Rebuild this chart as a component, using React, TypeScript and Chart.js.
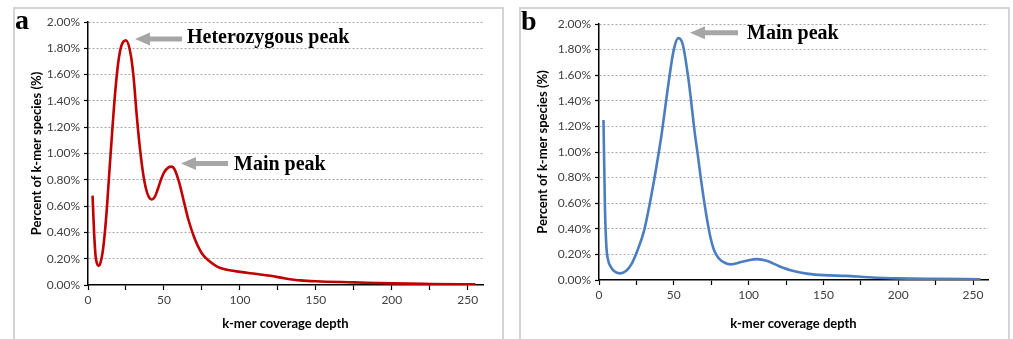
import React, { useEffect, useRef } from "react";
import { Chart, registerables } from "chart.js";

Chart.register(...registerables);

// ---- Panel a (red) ----
const A_DEPTH = [3, 4, 5, 6, 7, 8, 10, 12, 14, 16, 18, 20, 22, 25, 28, 30, 32, 34, 36, 38, 40, 42, 44, 46, 48, 50, 53, 55, 57, 60, 63, 66, 70, 75, 80, 85, 90, 100, 110, 120, 130, 140, 150, 175, 200, 225, 255];
const A_PERCENT = [0.68, 0.4, 0.22, 0.16, 0.145, 0.16, 0.28, 0.52, 0.85, 1.18, 1.48, 1.7, 1.82, 1.86, 1.76, 1.58, 1.3, 1.06, 0.87, 0.74, 0.67, 0.65, 0.67, 0.73, 0.8, 0.855, 0.895, 0.9, 0.88, 0.78, 0.64, 0.5, 0.36, 0.24, 0.18, 0.14, 0.12, 0.1, 0.085, 0.07, 0.05, 0.035, 0.028, 0.02, 0.012, 0.008, 0.005];

// ---- Panel b (blue) ----
const B_DEPTH = [3, 4, 5, 6, 8, 10, 14, 18, 22, 26, 30, 34, 38, 40, 42, 46, 50, 53, 56, 60, 64, 66, 68, 71, 74, 77, 80, 84, 88, 95, 100, 106, 112, 120, 130, 140, 150, 165, 180, 200, 225, 255];
const B_PERCENT = [1.25, 0.55, 0.25, 0.16, 0.1, 0.07, 0.052, 0.07, 0.13, 0.24, 0.38, 0.6, 0.86, 1.0, 1.15, 1.5, 1.8, 1.89, 1.84, 1.55, 1.15, 0.98, 0.8, 0.56, 0.36, 0.23, 0.17, 0.135, 0.122, 0.14, 0.155, 0.163, 0.15, 0.11, 0.07, 0.048, 0.038, 0.032, 0.022, 0.013, 0.009, 0.006];

const X_TICKS = [0, 25, 50, 75, 100, 125, 150, 175, 200, 225, 250];
const Y_TICKS = [0, 0.2, 0.4, 0.6, 0.8, 1.0, 1.2, 1.4, 1.6, 1.8, 2.0];
const X_TITLE = "k-mer coverage depth";
const Y_TITLE = "Percent of k-mer species (%)";

type Note = { text: string; tipX: number; y: number; tailX: number; textX: number; baseY: number };
type PanelCfg = {
  letter: string;
  left: number;
  top: number;
  width: number;
  height: number;
  area: { left: number; top: number; right: number; bottom: number };
  xs: number[];
  ys: number[];
  color: string;
  letterPos: [number, number];
  notes: Note[];
};

const PANELS: PanelCfg[] = [
  {
    letter: "a",
    left: 13,
    top: 7,
    width: 491,
    height: 334,
    area: { left: 75, top: 15, right: 470, bottom: 278 },
    xs: A_DEPTH,
    ys: A_PERCENT,
    color: "#c00000",
    letterPos: [2, 22],
    notes: [
      { text: "Heterozygous peak", tipX: 122, y: 32, tailX: 169, textX: 174, baseY: 36 },
      { text: "Main peak", tipX: 168, y: 156.5, tailX: 215, textX: 221, baseY: 163 },
    ],
  },
  {
    letter: "b",
    left: 519,
    top: 7,
    width: 491,
    height: 334,
    area: { left: 80, top: 17, right: 469, bottom: 273 },
    xs: B_DEPTH,
    ys: B_PERCENT,
    color: "#4a7ebf",
    letterPos: [2, 23],
    notes: [{ text: "Main peak", tipX: 171, y: 25.7, tailX: 219, textX: 228, baseY: 32 }],
  },
];

function Panel({ cfg }: { cfg: PanelCfg }) {
  const ref = useRef<HTMLCanvasElement | null>(null);
  useEffect(() => {
    if (!ref.current) return;
    const padL = 12;
    const padB = 5;
    const H = cfg.height;
    const W = cfg.width;
    const annot = {
      id: "annot",
      afterDraw(chart: any) {
        const ctx = chart.ctx as CanvasRenderingContext2D;
        ctx.save();
        ctx.fillStyle = "#000";
        ctx.font = "bold 28px 'Liberation Serif', serif";
        ctx.textBaseline = "alphabetic";
        ctx.textAlign = "left";
        ctx.fillText(cfg.letter, cfg.letterPos[0], cfg.letterPos[1]);
        for (const n of cfg.notes) {
          ctx.fillStyle = "#a6a6a6";
          const headLen = 15;
          const headH = 13;
          const shaft = 5;
          ctx.beginPath();
          ctx.moveTo(n.tipX, n.y);
          ctx.lineTo(n.tipX + headLen, n.y - headH / 2);
          ctx.lineTo(n.tipX + headLen, n.y - shaft / 2);
          ctx.lineTo(n.tailX, n.y - shaft / 2);
          ctx.lineTo(n.tailX, n.y + shaft / 2);
          ctx.lineTo(n.tipX + headLen, n.y + shaft / 2);
          ctx.lineTo(n.tipX + headLen, n.y + headH / 2);
          ctx.closePath();
          ctx.fill();
          ctx.fillStyle = "#000";
          ctx.font = "bold 20px 'Liberation Serif', serif";
          ctx.fillText(n.text, n.textX, n.baseY);
        }
        ctx.restore();
      },
    };
    const chart = new Chart(ref.current, {
      type: "line",
      data: {
        datasets: [
          {
            data: cfg.xs.map((x, i) => ({ x, y: cfg.ys[i] })),
            borderColor: cfg.color,
            borderWidth: 2.6,
            pointRadius: 0,
            cubicInterpolationMode: "monotone",
            fill: false,
          },
        ],
      },
      options: {
        animation: false,
        responsive: false,
        maintainAspectRatio: false,
        layout: {
          padding: {
            left: padL,
            top: cfg.area.top,
            right: W - cfg.area.right,
            bottom: padB,
          },
        },
        plugins: { legend: { display: false }, tooltip: { enabled: false } },
        scales: {
          x: {
            type: "linear",
            min: 0,
            max: 260,
            afterBuildTicks: (s: any) => {
              s.ticks = X_TICKS.map((v) => ({ value: v }));
            },
            afterFit: (s: any) => {
              s.height = H - padB - cfg.area.bottom;
            },
            ticks: {
              autoSkip: false,
              maxRotation: 0,
              padding: 3,
              color: "#404040",
              font: { family: "Lato", size: 12 },
              callback: (v: any) => (Number(v) % 50 === 0 ? String(v) : ""),
            },
            grid: {
              drawOnChartArea: false,
              drawTicks: true,
              tickLength: 5,
              tickColor: "#000",
              tickWidth: 1.2,
            },
            border: { color: "#000", width: 1.5 },
            title: {
              display: true,
              text: X_TITLE,
              color: "#000",
              font: { family: "Lato", size: 13, weight: "bold" },
              padding: { top: 4, bottom: 4 },
            },
          },
          y: {
            type: "linear",
            min: 0,
            max: 2,
            afterBuildTicks: (s: any) => {
              s.ticks = Y_TICKS.map((v) => ({ value: v }));
            },
            afterFit: (s: any) => {
              s.width = cfg.area.left - padL;
            },
            ticks: {
              padding: 4,
              color: "#404040",
              font: { family: "Lato", size: 12 },
              callback: (v: any) => Number(v).toFixed(2) + "%",
            },
            grid: {
              color: (c: any) => (c.tick && c.tick.value === 0 ? "rgba(0,0,0,0)" : "#a8a8a8"),
              lineWidth: 1,
              drawTicks: true,
              tickLength: 4,
              tickColor: "#000",
              tickWidth: 1.2,
              tickBorderDash: [],
            },
            border: { color: "#000", width: 1.5, dash: [2, 2] },
            title: {
              display: true,
              text: Y_TITLE,
              color: "#000",
              font: { family: "Lato", size: 13, weight: "bold" },
              padding: { top: 4, bottom: 4 },
            },
          },
        },
      },
      plugins: [annot],
    } as any);
    return () => chart.destroy();
  }, [cfg]);
  return (
    <>
      <div
        style={{
          position: "absolute",
          left: cfg.left,
          top: cfg.top,
          width: cfg.width,
          height: cfg.height,
          border: "2px solid #d4d4d4",
          boxSizing: "border-box",
          background: "#fff",
        }}
      />
      <canvas
        ref={ref}
        width={cfg.width}
        height={cfg.height}
        style={{ position: "absolute", left: cfg.left, top: cfg.top, width: cfg.width, height: cfg.height }}
      />
    </>
  );
}

export default function App() {
  return (
    <div
      style={{
        position: "fixed",
        left: 0,
        top: 0,
        width: 1013,
        height: 339,
        background: "#fff",
        overflow: "hidden",
      }}
    >
      {PANELS.map((p) => (
        <Panel key={p.letter} cfg={p} />
      ))}
    </div>
  );
}
